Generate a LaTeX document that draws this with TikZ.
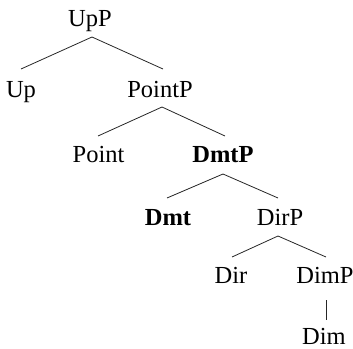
\documentclass[tikz,border=0pt]{standalone}
\usepackage{fontspec}
\setmainfont{Liberation Serif}
\begin{document}
\begin{tikzpicture}[x=1pt,y=-1pt,
  lbl/.style={anchor=base,inner sep=0pt,font=\fontsize{24.5}{28}\selectfont},
  edge/.style={line width=0.8pt,color=black!85}]
\useasboundingbox (0,0) rectangle (353,348);
% labels
\node[lbl] (UpP) at (90,26) {UpP};
\node[lbl] (Up) at (21,97) {Up};
\node[lbl] (PointP) at (160,97) {PointP};
\node[lbl] (Point) at (98.5,162) {Point};
\node[lbl] (DmtP) at (223,162) {\textbf{DmtP}};
\node[lbl] (Dmt) at (168,225) {\textbf{Dmt}};
\node[lbl] (DirP) at (280,225) {DirP};
\node[lbl] (Dir) at (231,283) {Dir};
\node[lbl] (DimP) at (325,283) {DimP};
\node[lbl,text depth=0pt] (Dim) at (324,344) {Dim};
% connector points
\coordinate (UpP-a) at (92,37);
\coordinate (Up-t) at (21,69);
\coordinate (PointP-t) at (163,69);
\coordinate (PointP-a) at (162,107);
\coordinate (Point-t) at (98,136);
\coordinate (DmtP-t) at (225,136);
\coordinate (DmtP-a) at (223,174);
\coordinate (Dmt-t) at (167,198);
\coordinate (DirP-t) at (278,198);
\coordinate (DirP-a) at (278,236);
\coordinate (Dir-t) at (232,257);
\coordinate (DimP-t) at (326,257);
\coordinate (DimP-a) at (326,300);
\coordinate (Dim-t) at (326,320);
% connectors
\draw[edge] (Up-t) -- (UpP-a) -- (PointP-t);
\draw[edge] (Point-t) -- (PointP-a) -- (DmtP-t);
\draw[edge] (Dmt-t) -- (DmtP-a) -- (DirP-t);
\draw[edge] (Dir-t) -- (DirP-a) -- (DimP-t);
\draw[edge] (DimP-a) -- (Dim-t);
\end{tikzpicture}
\end{document}
